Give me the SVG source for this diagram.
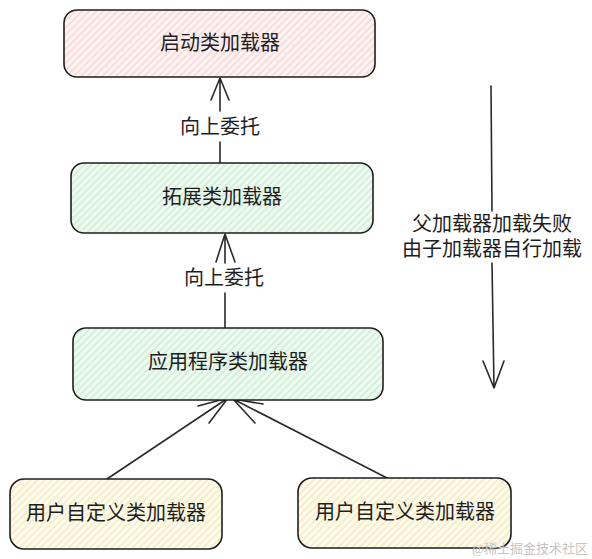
<svg xmlns="http://www.w3.org/2000/svg" width="592" height="559" viewBox="0 0 592 559">
<style>
.box{stroke:#1e1e1e;stroke-width:1.6}
.lbl{font-family:"Liberation Sans","Noto Sans CJK SC",sans-serif;font-size:20px;fill:#1e1e1e;text-anchor:middle;dominant-baseline:central}
.edge{stroke:#2a2a2a;stroke-width:1.6;fill:none;stroke-linecap:round;stroke-linejoin:round}
.wm{font-family:"Liberation Serif","Noto Sans CJK SC",serif;font-size:13px;fill:#c4c4c4;text-anchor:end}
</style>
<defs>
<pattern id="hp" patternUnits="userSpaceOnUse" width="5" height="5" patternTransform="rotate(45)">
<rect width="5" height="5" fill="#fdf3f3"/><line x1="1" y1="0" x2="1" y2="5" stroke="#f8d4d4" stroke-width="1.4"/>
</pattern>
<pattern id="hg" patternUnits="userSpaceOnUse" width="5" height="5" patternTransform="rotate(45)">
<rect width="5" height="5" fill="#eefaf1"/><line x1="1" y1="0" x2="1" y2="5" stroke="#c9ecd1" stroke-width="1.4"/>
</pattern>
<pattern id="hy" patternUnits="userSpaceOnUse" width="5" height="5" patternTransform="rotate(45)">
<rect width="5" height="5" fill="#fdfbec"/><line x1="1" y1="0" x2="1" y2="5" stroke="#f3e9bd" stroke-width="1.4"/>
</pattern>
</defs>
<rect width="592" height="559" fill="#ffffff"/>

<g id="connectors">
<path class="edge" d="M220 163 L220 142 M220 111 L220 78 M211 100 L220 78 L229 100"/>
<path class="edge" d="M225 328 L225 293 M225 263 L225 234 M216 262 L225 234 L235 262"/>
<path class="edge" d="M107 479 L228 398 M198 406 L228 398 L209 423"/>
<path class="edge" d="M387 478 L233 399 M263 404 L233 399 L255 423"/>
<path class="edge" d="M491 86 L492 211 M492 263 L494 388 M483 361 L494 388 L504 361"/>
</g>

<g id="n-bootstrap">
<rect class="box" x="64" y="10" width="311" height="67" rx="13" fill="url(#hp)"/>
<text class="lbl" x="220" y="43">启动类加载器</text>
</g>
<g id="n-ext">
<rect class="box" x="71" y="163" width="302" height="70" rx="13" fill="url(#hg)"/>
<text class="lbl" x="222" y="197">拓展类加载器</text>
</g>
<g id="n-app">
<rect class="box" x="73" y="328" width="310" height="72" rx="13" fill="url(#hg)"/>
<text class="lbl" x="228" y="362">应用程序类加载器</text>
</g>
<g id="n-user1">
<rect class="box" x="10" y="479" width="212" height="70" rx="14" fill="url(#hy)"/>
<text class="lbl" x="116" y="513">用户自定义类加载器</text>
</g>
<g id="n-user2">
<rect class="box" x="298" y="478" width="213" height="70" rx="14" fill="url(#hy)"/>
<text class="lbl" x="405" y="512">用户自定义类加载器</text>
</g>

<g id="labels">
<text class="lbl" x="220" y="127">向上委托</text>
<text class="lbl" x="224" y="278">向上委托</text>
<text class="lbl" x="492" y="224"><tspan x="492" y="224">父加载器加载失败</tspan><tspan x="492" y="249">由子加载器自行加载</tspan></text>
</g>

<text class="wm" x="588" y="553">@稀土掘金技术社区</text>
</svg>
